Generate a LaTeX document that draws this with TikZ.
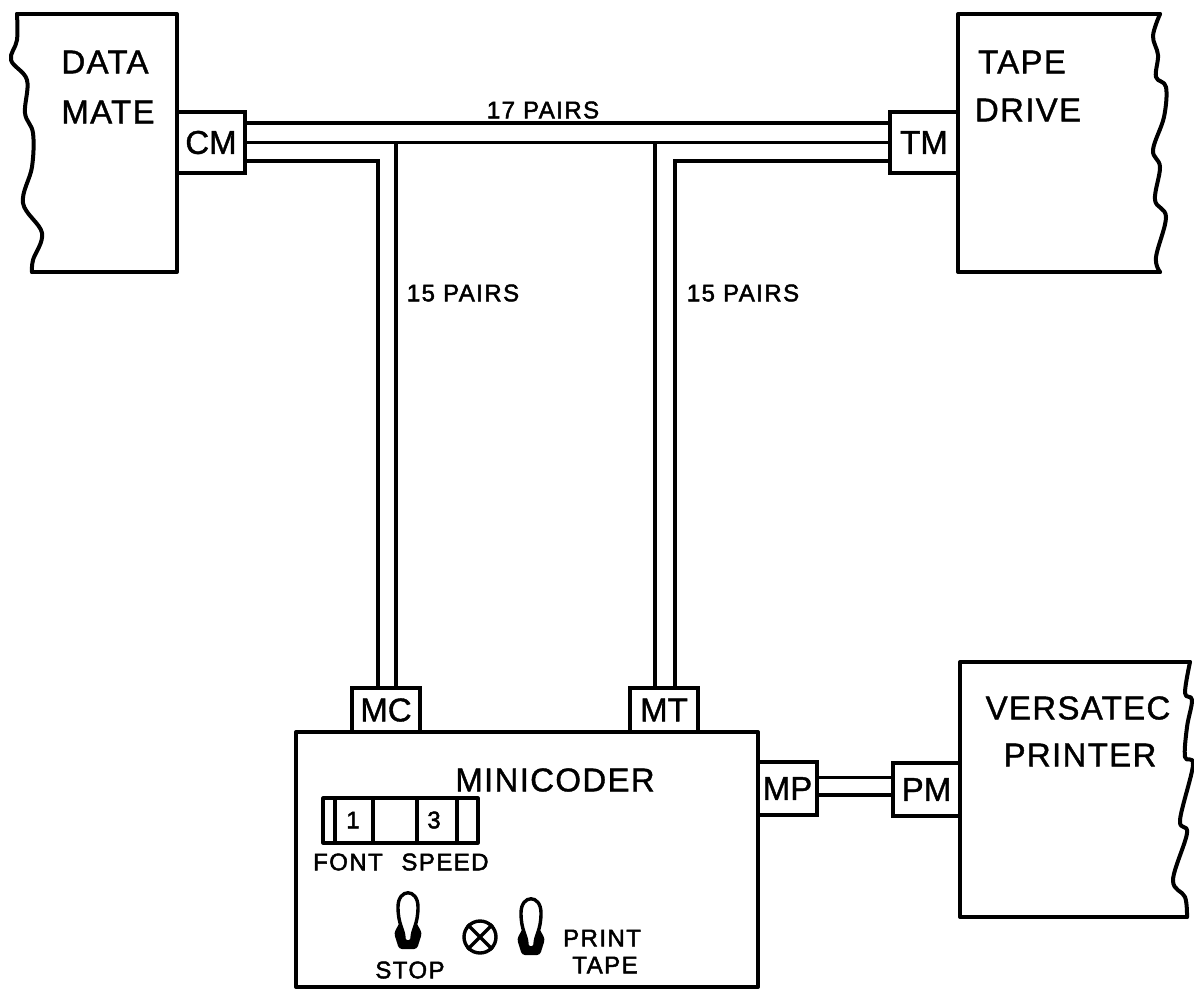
\documentclass[tikz,border=0pt]{standalone}
\usepackage{fontspec}
\setmainfont{Liberation Sans}
\newfontfamily\portfont[FakeBold=1.2]{Liberation Sans}
\newfontfamily\bigfont[LetterSpace=4,FakeBold=1.2]{Liberation Sans}
\newfontfamily\smallfont[LetterSpace=6,FakeBold=2]{Liberation Sans}
\tikzset{
  x=1pt,y=-1pt,
  outline/.style={line width=4pt,line join=round,line cap=round},
  wire/.style={line width=3.2pt},
  port/.style={draw,line width=4pt,inner sep=0pt,outer sep=0pt,font=\fontsize{33}{36}\portfont},
  biglabel/.style={inner sep=0pt,font=\fontsize{33}{38}\bigfont},
  smalllabel/.style={inner sep=0pt,font=\fontsize{24}{28}\smallfont},
  panel/.style={line width=3.2pt,line join=round},
  tglbody/.pic={
    \fill[black,rounded corners=3pt] (-14,40) -- (-8,29) -- (8,29) -- (14,40) -- (9,56) -- (-9,56) -- cycle;
    \draw[line width=3.4pt,fill=white] (-4,46) .. controls (-4,36) and (-10,32) .. (-10,14)
      .. controls (-10,-5) and (10,-5) .. (10,14) .. controls (10,32) and (4,36) .. (4,46)
      .. controls (3,50) and (-3,50) .. (-4,46) -- cycle;
  }
}
\begin{document}
\begin{tikzpicture}
\path[use as bounding box,fill=white] (0,0) rectangle (1194,989);

% device outlines
\draw[outline] (17,14) -- (177,14) -- (177,272) -- (32,272);
\draw[outline] plot[smooth,tension=.6] coordinates {(17,14) (17,40) (11,60) (27,80) (25,113) (33,133) (32,167) (23,203) (42,233) (33,260) (32,272)};
\draw[outline] (1160,14) -- (958,14) -- (958,272) -- (1160,272);
\draw[outline] plot[smooth,tension=.6] coordinates {(1160,14) (1153,36) (1158,55) (1156,77) (1166,87) (1164,117) (1153,150) (1160,167) (1155,200) (1166,217) (1156,257) (1160,272)};
\draw[outline] (1190,662) -- (960,662) -- (960,917) -- (1187,917);
\draw[outline] plot[smooth,tension=.6] coordinates {(1190,662) (1185,693) (1192,700) (1187,727) (1185,757) (1193,765) (1180,820) (1187,833) (1173,880) (1185,897) (1187,917)};
\draw[outline] (296,732) rectangle (758,987);

% ports
\node[port,minimum width=68pt,minimum height=61pt] (cm) at (211,142.5) {CM};
\node[port,minimum width=68pt,minimum height=61pt] (tm) at (924,142.5) {TM};
\node[port,minimum width=68pt,minimum height=44pt] (mc) at (386,710) {MC};
\node[port,minimum width=68pt,minimum height=44pt] (mt) at (664,710) {MT};
\node[port,minimum width=59pt,minimum height=53pt] (mp) at (787.5,788.5) {MP};
\node[port,minimum width=67pt,minimum height=53pt] (pm) at (926.5,789.5) {PM};

% connectors
\coordinate (j1) at (396,142.5);
\coordinate (j2) at (655,142.5);
\draw[wire] ([yshift=19.5pt]cm.east) -- ([yshift=19.5pt]tm.west);
\draw[wire] (cm.east) -- (tm.west);
\draw[wire] ([yshift=-18.5pt]cm.east) -| ([xshift=-8pt]mc.north);
\draw[wire] (j1) -- ([xshift=10pt]mc.north);
\draw[wire] (j2) -- ([xshift=-9pt]mt.north);
\draw[wire] ([yshift=-18.5pt]tm.west) -| ([xshift=11pt]mt.north);
\draw[wire] ([yshift=11pt]mp.east) -- ([yshift=12pt]pm.west);
\draw[wire] ([yshift=-6.5pt]mp.east) -- ([yshift=-5.5pt]pm.west);

% labels
\node[biglabel] (dl1) at (105,62) {DATA};
\node[biglabel] (dl2) at (108,112) {MATE};
\node[biglabel] (tl1) at (1022,62) {TAPE};
\node[biglabel] (tl2) at (1028,110) {DRIVE};
\node[biglabel] (vl1) at (1078,708) {VERSATEC};
\node[biglabel] (vl2) at (1080,755) {PRINTER};
\node[biglabel] (ml) at (555,780) {MINICODER};
\node[smalllabel] (p17) at (543,110) {17 PAIRS};
\node[smalllabel] (p15a) at (463,293) {15 PAIRS};
\node[smalllabel] (p15b) at (743,293) {15 PAIRS};

% font/speed panel
\draw[panel] (323,798) rectangle (478,843);
\draw[panel] (335,798) -- (335,843);
\draw[panel] (373,798) -- (373,843);
\draw[panel] (417,798) -- (417,843);
\draw[panel] (457,798) -- (457,843);
\node[smalllabel] (n1) at (353,820) {1};
\node[smalllabel] (n3) at (434,820) {3};
\node[smalllabel] (lf) at (348,862) {FONT};
\node[smalllabel] (ls) at (445,862) {SPEED};

% switches and lamp
\pic at (408,893) {tglbody};
\pic at (531,899) {tglbody};
\node[draw,circle,line width=3.4pt,minimum size=32pt,inner sep=0pt] (lamp) at (480,937) {};
\draw[line width=3.4pt] (lamp.north west) -- (lamp.south east);
\draw[line width=3.4pt] (lamp.north east) -- (lamp.south west);
\node[smalllabel] (ls2) at (410,970) {STOP};
\node[smalllabel] (lp) at (602,938) {PRINT};
\node[smalllabel] (lt) at (605,965) {TAPE};
\end{tikzpicture}
\end{document}
